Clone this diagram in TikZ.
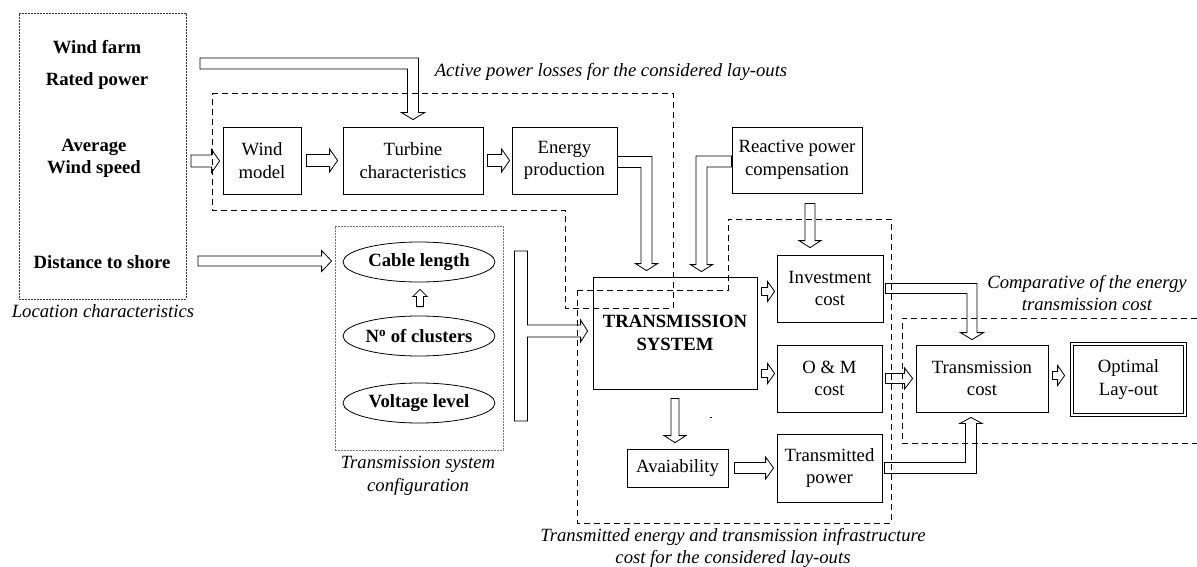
\documentclass[tikz,border=0pt]{standalone}
\usepackage{fontspec}
\setmainfont{Liberation Serif}
\usetikzlibrary{calc,shapes.geometric}
\newcommand\fsz{\fontsize{18.7}{22.5}\selectfont}
% straight block arrows: #1 start, #2 tip, #3 shaft half width, #4 head half width, #5 head length
\newcommand\RArr[5]{\draw[blk] let \p1=#1,\p2=#2 in (\x1,\y1+#3) -- (\x2-#5,\y1+#3) -- (\x2-#5,\y1+#4) -- (\x2,\y1) -- (\x2-#5,\y1-#4) -- (\x2-#5,\y1-#3) -- (\x1,\y1-#3) -- cycle;}
\newcommand\DArr[5]{\draw[blk] let \p1=#1,\p2=#2 in (\x1-#3,\y1) -- (\x1-#3,\y2+#5) -- (\x1-#4,\y2+#5) -- (\x1,\y2) -- (\x1+#4,\y2+#5) -- (\x1+#3,\y2+#5) -- (\x1+#3,\y1) -- cycle;}
\newcommand\UArr[5]{\draw[blk] let \p1=#1,\p2=#2 in (\x1-#3,\y1) -- (\x1-#3,\y2-#5) -- (\x1-#4,\y2-#5) -- (\x1,\y2) -- (\x1+#4,\y2-#5) -- (\x1+#3,\y2-#5) -- (\x1+#3,\y1) -- cycle;}
% bent block arrows
\newcommand\RDArr[5]{\draw[blk] let \p1=#1,\p2=#2 in (\x1,\y1+#3) -- (\x2+#3,\y1+#3) -- (\x2+#3,\y2+#5) -- (\x2+#4,\y2+#5) -- (\x2,\y2) -- (\x2-#4,\y2+#5) -- (\x2-#3,\y2+#5) -- (\x2-#3,\y1-#3) -- (\x1,\y1-#3) -- cycle;}
\newcommand\LDArr[5]{\draw[blk] let \p1=#1,\p2=#2 in (\x1,\y1+#3) -- (\x2-#3,\y1+#3) -- (\x2-#3,\y2+#5) -- (\x2-#4,\y2+#5) -- (\x2,\y2) -- (\x2+#4,\y2+#5) -- (\x2+#3,\y2+#5) -- (\x2+#3,\y1-#3) -- (\x1,\y1-#3) -- cycle;}
\newcommand\RUArr[5]{\draw[blk] let \p1=#1,\p2=#2 in (\x1,\y1-#3) -- (\x2+#3,\y1-#3) -- (\x2+#3,\y2-#5) -- (\x2+#4,\y2-#5) -- (\x2,\y2) -- (\x2-#4,\y2-#5) -- (\x2-#3,\y2-#5) -- (\x2-#3,\y1+#3) -- (\x1,\y1+#3) -- cycle;}
\begin{document}
\begin{tikzpicture}[x=1pt,y=-1pt,
  box/.style={draw,line width=0.8pt,inner sep=0pt,align=center,font=\fsz},
  ell/.style={draw,ellipse,line width=0.8pt,inner sep=0pt,minimum width=152pt,minimum height=40pt,font=\fsz\bfseries},
  blk/.style={draw,line width=0.8pt,line join=miter},
  grp/.style={draw,dash pattern=on 6pt off 4pt,line width=0.8pt},
  dotbox/.style={draw,dash pattern=on 2pt off 1pt,line width=0.8pt,inner sep=0pt},
  lbl/.style={font=\fsz\itshape,align=center,inner sep=0pt},
  btxt/.style={font=\fsz\bfseries,align=center,inner sep=0pt}]
\useasboundingbox (0,0) rectangle (1197,567);

% group frames
\node[dotbox,draw=black!80,minimum width=167pt,minimum height=286pt] (locb) at (102.5,156) {};
\node[dotbox,draw=black!55,minimum width=168pt,minimum height=224pt] (cfg) at (419,338) {};
\draw[grp] (212,93) -- (673,93) -- (673,308) -- (565,308) -- (565,210) -- (212,210) -- cycle;
\draw[grp] (577,290) -- (728,290) -- (728,219) -- (891,219) -- (891,523) -- (577,523) -- cycle;
\draw[grp] (1197,318) -- (902,318) -- (902,443) -- (1197,443);

% location texts
\node[btxt] (wf) at (97,65) {Wind farm\\[9pt]Rated power};
\node[btxt] (aws) at (94,158.5) {Average\\Wind speed};
\node[btxt] (dts) at (102,262) {Distance to shore};
\node[lbl] (locl) at (103,311) {Location characteristics};

% boxes
\node[box,minimum width=78pt,minimum height=67pt] (wm) at (262,160.5) {Wind\\model};
\node[box,minimum width=140pt,minimum height=67pt] (tch) at (413,160.5) {Turbine\\characteristics};
\node[box,minimum width=105pt,minimum height=67pt] (ep) at (564.5,160.5) {Energy\\production};
\node[box,minimum width=130pt,minimum height=66pt] (rp) at (797,160) {Reactive power\\compensation};
\node[box,minimum width=164pt,minimum height=112pt,font=\fsz\bfseries] (ts) at (675,333) {TRANSMISSION\\SYSTEM};
\node[box,minimum width=106pt,minimum height=67pt] (inv) at (830,288.5) {Investment\\cost};
\node[box,minimum width=105pt,minimum height=67pt] (om) at (829.5,378.5) {O \& M\\cost};
\node[box,minimum width=101pt,minimum height=38pt] (av) at (677.5,468) {Avaiability};
\node[box,minimum width=105pt,minimum height=68pt] (tp) at (829.5,468) {Transmitted\\power};
\node[box,minimum width=132pt,minimum height=67pt] (tcost) at (982,378.5) {Transmission\\cost};
\node[box,double,double distance=2.4pt,minimum width=113pt,minimum height=71pt] (opt) at (1128.5,379.5) {Optimal\\Lay-out};

% ellipses
\node[ell] (cl) at (419,262) {Cable length};
\node[ell] (nc) at (419,336) {N\textsuperscript{o} of clusters};
\node[ell] (vl) at (419,403) {Voltage level};

% italic labels
\node[lbl] (actl) at (611,72) {Active power losses for the considered lay-outs};
\node[lbl] (tscl) at (418,476) {Transmission system\\configuration};
\node[lbl] (tenl) at (733,548) {Transmitted energy and transmission infrastructure\\cost for the considered lay-outs};
\node[lbl] (cmpl) at (1087,293) {Comparative of the energy\\transmission cost};

% free ends
\coordinate (wfa) at (200,63.5);
\coordinate (awa) at (191,161);
\coordinate (dsa) at (198,261);

% arrows
\RDArr{(wfa)}{($(tch.north)+(0,-7)$)}{5.5pt}{11.5pt}{7pt}
\RArr{(awa)}{($(wm.west)+(-3,0)$)}{6pt}{11.5pt}{8pt}
\RArr{($(wm.east)+(5,0)$)}{($(tch.west)+(-5,0)$)}{6pt}{11.5pt}{8pt}
\RArr{($(tch.east)+(4,0)$)}{($(ep.west)+(-2,0)$)}{6pt}{11.5pt}{8pt}
\RArr{(dsa)}{($(cfg.west)+(-3,0)$)}{5pt}{10.5pt}{10pt}
\RDArr{($(ep.east)+(0,1.5)$)}{($(ts.north)+(-28.5,-6)$)}{5.5pt}{11pt}{7pt}
\LDArr{($(rp.west)+(0,1.5)$)}{($(ts.north)+(26.5,-5)$)}{5.5pt}{11pt}{7pt}
\DArr{($(rp.south)+(13,10)$)}{($(inv.north)+(0,-7)$)}{5pt}{11pt}{7pt}
\RArr{($(ts.east|-inv.center)+(4,3)$)}{($(inv.west)+(-2,0)$)}{4pt}{10pt}{7pt}
\RArr{($(ts.east|-om.center)+(4,-5)$)}{($(om.west)+(-2,0)$)}{4pt}{10pt}{7pt}
\RArr{($(om.east)+(3,0)$)}{($(tcost.west)+(-3,0)$)}{5pt}{10.5pt}{8pt}
\RArr{($(tcost.east)+(4,-3)$)}{($(opt.west)+(-7,0)$)}{4pt}{10pt}{7pt}
\DArr{($(ts.south)+(0,9)$)}{($(av.north)+(0,-6)$)}{4pt}{11pt}{7pt}
\RArr{($(av.east)+(6,0)$)}{($(tp.west)+(-3,0)$)}{5.5pt}{11pt}{8pt}
\RDArr{($(inv.east)+(2,0)$)}{($(tcost.north)+(-10,-5)$)}{5pt}{11.5pt}{7pt}
\RUArr{($(tp.east)+(2,0)$)}{($(tcost.south)+(-11,5)$)}{5.5pt}{11pt}{6pt}
\UArr{($(nc.north)+(1,-9)$)}{($(cl.south)+(1,7)$)}{3.5pt}{7pt}{7pt}
% T-shaped collector arrow from configuration to transmission system
\draw[blk] let \p1=($(cfg.east)+(11,0)$),\p2=($(ts.west)+(-5,-2)$) in
  (\x1,\y2+80pt) -- (\x1+13pt,\y2+80pt) -- (\x1+13pt,\y2+6pt) -- (\x2-7pt,\y2+6pt) -- (\x2-7pt,\y2+11pt) -- (\x2,\y2)
  -- (\x2-7pt,\y2-11pt) -- (\x2-7pt,\y2-6pt) -- (\x1+13pt,\y2-6pt) -- (\x1+13pt,\y2-90pt) -- (\x1,\y2-90pt) -- cycle;
% stray mark
\draw[line width=0.6pt] (709.5,417) -- (712,417);
\end{tikzpicture}
\end{document}
